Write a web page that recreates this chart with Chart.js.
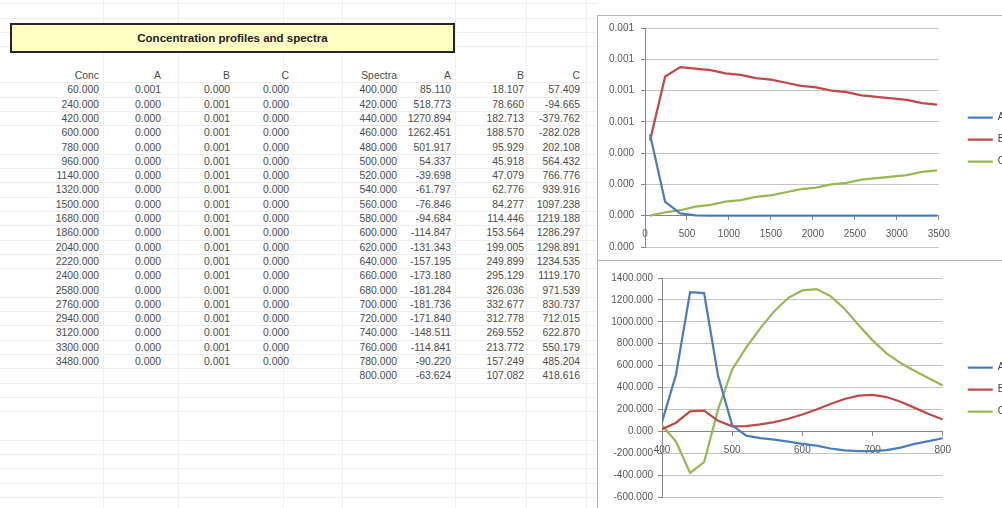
<!DOCTYPE html>
<html>
<head>
<meta charset="utf-8">
<script src="https://cdn.jsdelivr.net/npm/chart.js@4.4.0/dist/chart.umd.min.js"></script>
<style>
  html, body { margin: 0; padding: 0; width: 1002px; height: 508px; overflow: hidden; background: #fff; }
  body { position: relative; font-family: "Liberation Sans", Arial, sans-serif; }
  #sheet {
    position: absolute; left: 0; top: 0; width: 596px; height: 508px;
    background-image: repeating-linear-gradient(to bottom, transparent 0, transparent 13.3px, #eeeeee 13.3px, #eeeeee 14.3px);
    background-position: 0 69px;
  }
  .vline { position: absolute; top: 0; width: 1px; height: 508px; background: #f0f0f0; z-index: 0; }
  #title {
    position: absolute; left: 10px; top: 23px; width: 441px; height: 26px; z-index: 2;
    background: #ffffc4; border: 2px solid #262626;
    font-weight: bold; font-size: 11.5px; color: #222; text-align: center; line-height: 26px;
  }
  .cell { position: absolute; width: 90px; text-align: right; font-size: 10.4px; line-height: 14px; color: #4d4d4d; white-space: nowrap; z-index: 1; }
  canvas { position: absolute; z-index: 1; }
  .frame { position: absolute; border-left: 1px solid #b4b4b4; border-top: 1px solid #b4b4b4; pointer-events: none; z-index: 3; }
</style>
</head>
<body>
<div id="sheet"></div>
<div id="title">Concentration profiles and spectra</div>

<canvas id="concChart" width="418" height="245" style="left:597px; top:15px;"></canvas>
<canvas id="specChart" width="418" height="248" style="left:597px; top:260px;"></canvas>
<div class="frame" style="left:597px; top:15px; width:420px; height:245px;"></div>
<div class="frame" style="left:597px; top:260px; width:420px; height:260px;"></div>

<script>
// concentration profiles (time, A, B, C)
const concTime = [60, 240, 420, 600, 780, 960, 1140, 1320, 1500, 1680, 1860, 2040, 2220, 2400, 2580, 2760, 2940, 3120, 3300, 3480];
const concA = [0.00052, 0.000088, 0.000015, 0.0000025, 0.0000004, 0.0000001, 0, 0, 0, 0, 0, 0, 0, 0, 0, 0, 0, 0, 0, 0];
const concB = [0.00048, 0.00089, 0.00095, 0.00094, 0.00093, 0.00091, 0.00090, 0.00088, 0.00087, 0.00085, 0.00083, 0.00082, 0.00080, 0.00079, 0.00077, 0.00076, 0.00075, 0.00074, 0.00072, 0.00071];
const concC = [0.0, 0.000022, 0.000035, 0.000058, 0.00007, 0.00009, 0.0001, 0.00012, 0.00013, 0.00015, 0.00017, 0.00018, 0.0002, 0.00021, 0.00023, 0.00024, 0.00025, 0.00026, 0.00028, 0.00029];

// spectra (wavelength, A, B, C)
const wavelength = [400, 420, 440, 460, 480, 500, 520, 540, 560, 580, 600, 620, 640, 660, 680, 700, 720, 740, 760, 780, 800];
const specA = [85.110, 518.773, 1270.894, 1262.451, 501.917, 54.337, -39.698, -61.797, -76.846, -94.684, -114.847, -131.343, -157.195, -173.180, -181.284, -181.736, -171.840, -148.511, -114.841, -90.220, -63.624];
const specB = [18.107, 78.660, 182.713, 188.570, 95.929, 45.918, 47.079, 62.776, 84.277, 114.446, 153.564, 199.005, 249.899, 295.129, 326.036, 332.677, 312.778, 269.552, 213.772, 157.249, 107.082];
const specC = [57.409, -94.665, -379.762, -282.028, 202.108, 564.432, 766.776, 939.916, 1097.238, 1219.188, 1286.297, 1298.891, 1234.535, 1119.170, 971.539, 830.737, 712.015, 622.870, 550.179, 485.204, 418.616];

const seriesNames = ['A', 'B', 'C'];
const seriesColors = ['#4a7ebb', '#be4b48', '#98b954'];

const concTicks = { min: -0.0002, max: 0.0012, step: 0.0002, xMin: 0, xMax: 3500, xStep: 500 };
const specTicks = { min: -600, max: 1400, step: 200, xMin: 400, xMax: 800, xStep: 100 };

// spreadsheet part
const body = document.body;
[103, 178, 283, 342, 455, 526, 586].forEach(function (x) {
    const d = document.createElement('div');
    d.className = 'vline';
    d.style.left = x + 'px';
    body.appendChild(d);
});

function addCell(text, right, centerY) {
    const d = document.createElement('div');
    d.className = 'cell';
    d.textContent = text;
    d.style.left = (right - 90) + 'px';
    d.style.top = (centerY - 7) + 'px';
    body.appendChild(d);
}

const leftCols = [99, 161, 230, 289];
const rightCols = [397, 451, 524, 580];
const headY = 76, rowH = 14.3;

['Conc'].concat(seriesNames).forEach(function (h, i) { addCell(h, leftCols[i], headY); });
['Spectra'].concat(seriesNames).forEach(function (h, i) { addCell(h, rightCols[i], headY); });

concTime.forEach(function (t, r) {
    const y = headY + rowH * (r + 1);
    [t, concA[r], concB[r], concC[r]].forEach(function (v, i) { addCell(v.toFixed(3), leftCols[i], y); });
});
wavelength.forEach(function (w, r) {
    const y = headY + rowH * (r + 1);
    [w, specA[r], specB[r], specC[r]].forEach(function (v, i) { addCell(v.toFixed(3), rightCols[i], y); });
});

// charts
const fontFam = '"Liberation Sans", Arial, sans-serif';

function fmt3(v) {
    const s = Number(v).toFixed(3);
    return s === '-0.000' ? '0.000' : s;
}

function buildChart(canvasId, xs, series, t, lay) {
    const ctx = document.getElementById(canvasId).getContext('2d');
    return new Chart(ctx, {
        type: 'scatter',
        data: {
            datasets: series.map(function (s, i) {
                return {
                    label: seriesNames[i],
                    data: xs.map(function (x, j) { return { x: x, y: s[j] }; }),
                    showLine: true,
                    borderColor: seriesColors[i],
                    backgroundColor: seriesColors[i],
                    borderWidth: 2.25,
                    pointRadius: 0,
                    tension: 0
                };
            })
        },
        options: {
            responsive: false,
            animation: false,
            events: [],
            layout: { padding: { top: lay.padTop, bottom: lay.padBottom, left: 0, right: 0 } },
            plugins: {
                tooltip: { enabled: false },
                legend: {
                    position: 'right',
                    labels: {
                        usePointStyle: true,
                        pointStyle: 'line',
                        pointStyleWidth: 25,
                        padding: 12,
                        color: '#404040',
                        font: { size: 10, family: fontFam }
                    }
                }
            },
            scales: {
                x: {
                    type: 'linear',
                    position: { y: 0 },
                    min: t.xMin, max: t.xMax,
                    ticks: {
                        stepSize: t.xStep, autoSkip: false, maxRotation: 0,
                        padding: 9, color: '#595959', font: { size: 10, family: fontFam },
                        callback: function (v) { return String(v); }
                    },
                    grid: { drawOnChartArea: false, tickLength: 4, color: '#868686' },
                    border: { color: '#868686' },
                    afterFit: function (s) { s.height = 0; }
                },
                y: {
                    position: 'left',
                    min: t.min, max: t.max,
                    ticks: {
                        stepSize: t.step, padding: lay.yPad, color: '#595959',
                        font: { size: 10, family: fontFam },
                        callback: fmt3
                    },
                    grid: { color: '#c4c4c4', tickLength: 4, tickColor: '#868686' },
                    border: { color: '#868686' },
                    afterFit: function (s) { s.width = lay.yWidth; }
                },
                gap: {
                    type: 'linear',
                    position: 'right',
                    grid: { display: false },
                    border: { display: false },
                    ticks: { display: false },
                    afterFit: function (s) { s.width = lay.gap; }
                }
            }
        }
    });
}

buildChart('concChart', concTime, [concA, concB, concC], concTicks,
    { padTop: 13, padBottom: 9, yWidth: 48, yPad: 7, gap: 17 });
buildChart('specChart', wavelength, [specA, specB, specC], specTicks,
    { padTop: 18, padBottom: 7, yWidth: 65, yPad: 5, gap: 13 });
</script>
</body>
</html>
